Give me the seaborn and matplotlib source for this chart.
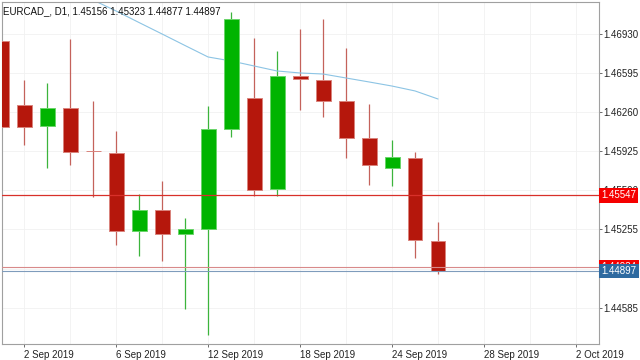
import numpy as np
import pandas as pd
import matplotlib
matplotlib.use("Agg")
import matplotlib.pyplot as plt
import matplotlib.transforms as mtransforms
import seaborn as sns

# daily candles EURCAD, 30 Aug .. 26 Sep 2019 (trading days only)
days = ["30 Aug", "2 Sep", "3 Sep", "4 Sep", "5 Sep", "6 Sep", "9 Sep", "10 Sep", "11 Sep", "12 Sep",
        "13 Sep", "16 Sep", "17 Sep", "18 Sep", "19 Sep", "20 Sep", "23 Sep", "24 Sep", "25 Sep", "26 Sep"]
opens = [1.46873, 1.46322, 1.46142, 1.46293, 1.45928, 1.45908, 1.45245, 1.45422, 1.45214, 1.45259,
         1.46116, 1.46379, 1.45605, 1.46570, 1.46536, 1.46358, 1.46041, 1.45784, 1.45870, 1.45156]
highs = [1.46950, 1.46536, 1.46513, 1.46884, 1.46356, 1.46099, 1.45559, 1.45668, 1.45354, 1.46313,
         1.47116, 1.46893, 1.46784, 1.46970, 1.47058, 1.46807, 1.46330, 1.46022, 1.45922, 1.45323]
lows = [1.46050, 1.45979, 1.45784, 1.45808, 1.45531, 1.45122, 1.45028, 1.44988, 1.44577, 1.44351,
        1.46045, 1.45542, 1.45542, 1.46279, 1.46216, 1.45870, 1.45636, 1.45628, 1.45008, 1.44877]
closes = [1.46136, 1.46136, 1.46293, 1.45922, 1.45928, 1.45242, 1.45422, 1.45214, 1.45257, 1.46113,
          1.47058, 1.45593, 1.46570, 1.46542, 1.46358, 1.46036, 1.45810, 1.45874, 1.45165, 1.44897]

# moving average, from the 5th candle on (earlier part runs above the chart)
ma_first = 4
ma_values = [1.47221, 1.47127, 1.47028, 1.46930, 1.46831, 1.46733, 1.46699, 1.46656, 1.46613,
             1.46596, 1.46587, 1.46553, 1.46519, 1.46484, 1.46442, 1.46373]

date_tick_pos = [1, 5, 9, 13, 17, 21, 25]
date_tick_labels = ["2 Sep 2019", "6 Sep 2019", "12 Sep 2019", "18 Sep 2019",
                    "24 Sep 2019", "28 Sep 2019", "2 Oct 2019"]
price_ticks = [1.44585, 1.44920, 1.45255, 1.45590, 1.45925, 1.46260, 1.46595, 1.46930]

level_price = 1.45547
ask_price = 1.44934
bid_price = 1.44897
title = "EURCAD_, D1, 1.45156 1.45323 1.44877 1.44897"

df = pd.DataFrame({"day": days, "open": opens, "high": highs, "low": lows, "close": closes})
df["i"] = np.arange(len(df))
df["up"] = df["close"] > df["open"]
df["bottom"] = df[["open", "close"]].min(axis=1)
df["height"] = (df["close"] - df["open"]).abs()

sns.set_theme(style="white")
plt.rcParams["font.family"] = ["Liberation Sans", "DejaVu Sans"]

red_body, red_edge, red_wick = "#b5170c", "#d9837c", "#c4625b"
green_body, green_edge, green_wick = "#00b400", "#6ad46a", "#3cb43c"

fig = plt.figure(figsize=(6.4, 3.6), dpi=100)
ax = fig.add_axes([2 / 640, 16 / 360, 597 / 640, 342 / 360])

# wicks
ax.vlines(df["i"], df["low"], df["high"],
          colors=np.where(df["up"], green_wick, red_wick), lw=0.9, zorder=2)
# bodies
ax.bar(df["i"], df["height"], bottom=df["bottom"], width=0.65,
       color=np.where(df["up"], green_body, red_body),
       edgecolor=np.where(df["up"], green_edge, red_edge), lw=0.7, zorder=3)

# moving average
ma_x = np.arange(ma_first, ma_first + len(ma_values))
sns.lineplot(x=ma_x, y=ma_values, ax=ax, color="#8cc4e4", lw=0.8, zorder=2)

# price lines
ax.axhline(level_price, color="#d8302a", lw=0.9, zorder=4)
ax.axhline(ask_price, color="#d88a8a", lw=0.8, zorder=4)
ax.axhline(bid_price, color="#7f9cbc", lw=0.8, zorder=4)

ax.set_xlim(0.04, 26.0)
ax.set_ylim(1.44274, 1.47204)

ax.yaxis.tick_right()
ax.set_yticks(price_ticks)
ax.set_yticklabels([f"{p:.5f}" for p in price_ticks])
ax.set_xticks(date_tick_pos)
ax.set_xticklabels(date_tick_labels, ha="left")
ax.set_xticks(np.arange(3, 26, 4), minor=True)
ax.tick_params(axis="both", which="major", direction="out", length=2.5, width=0.6,
               color="#555555", labelsize=7, labelcolor="#222222", pad=1)
ax.tick_params(axis="both", which="minor", length=0)
ax.tick_params(axis="x", bottom=True, pad=2)
ax.tick_params(axis="y", right=True, left=False, pad=0.5)
ax.grid(True, which="both", color="#f1f1f1", lw=0.6, zorder=0)
ax.set_axisbelow(True)
for s in ax.spines.values():
    s.set_color("#a0a0a0")
    s.set_linewidth(0.8)
ax.set_xlabel("")
ax.set_ylabel("")

# price labels on the right axis
trans = mtransforms.blended_transform_factory(ax.transAxes, ax.transData)
for price, bg, z in [(level_price, "#f50000", 6), (ask_price, "#f50000", 6), (bid_price, "#2e6aa0", 7)]:
    ax.text(1.004, price, f"{price:.5f}", transform=trans, ha="left", va="center",
            fontsize=7, color="white", clip_on=False, zorder=z,
            bbox=dict(boxstyle="square,pad=0.22", fc=bg, ec="none"))

fig.text(3 / 640, 1 - 11 / 360, title, fontsize=7, color="#111111", va="center", ha="left")

fig.savefig("out.png", dpi=100, facecolor="white")
